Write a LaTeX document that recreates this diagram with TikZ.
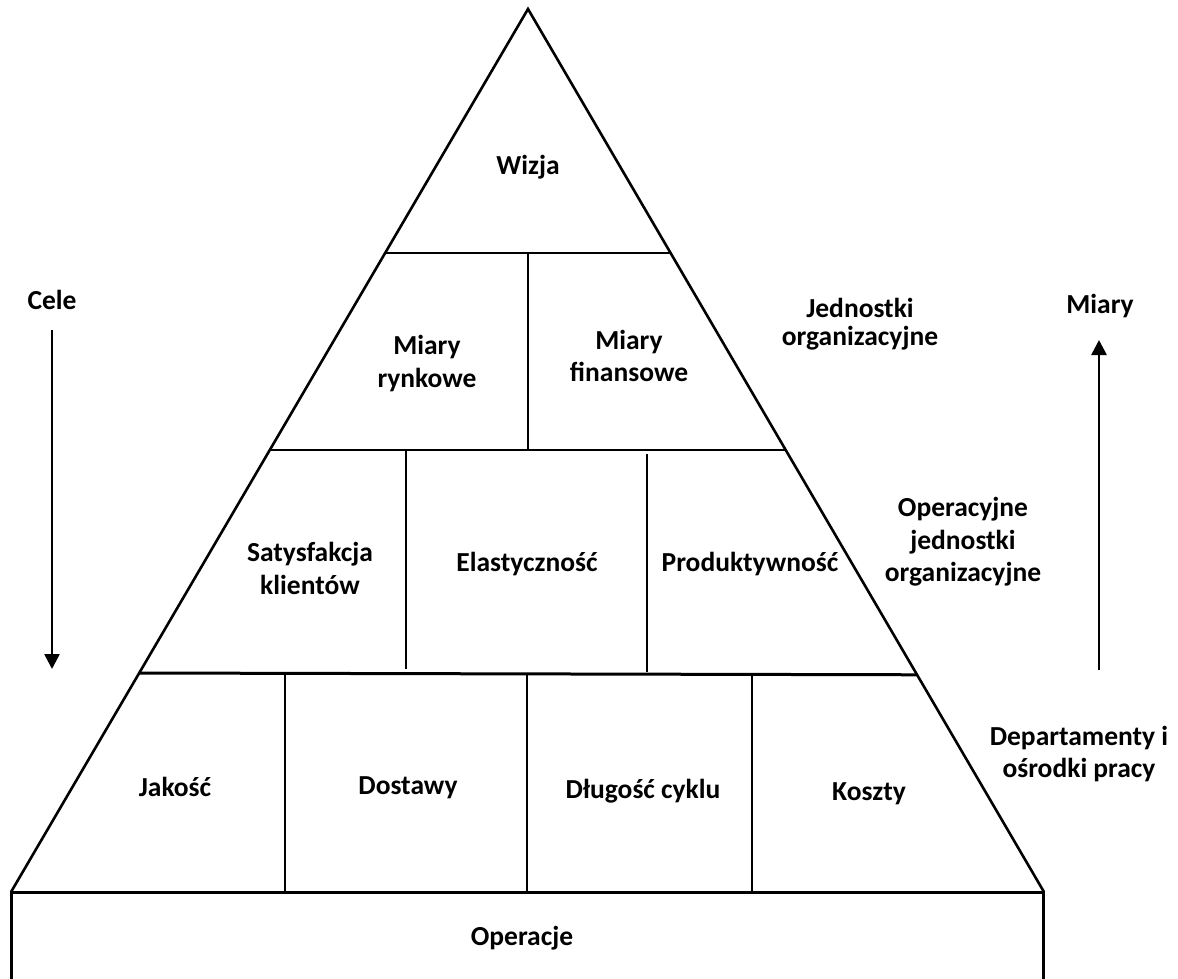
\documentclass[tikz,border=0pt]{standalone}
\usepackage{fontspec}
\setmainfont{Carlito}
\usetikzlibrary{calc,arrows.meta}
\begin{document}
\begin{tikzpicture}[x=1pt,y=-1pt,
  lbl/.style={font=\bfseries\fontsize{27.5}{33}\selectfont, inner sep=0pt, align=center},
  bl/.style={lbl, anchor=base},
  edge/.style={line width=2.6pt, line cap=butt},
  thick edge/.style={line width=3pt},
  arr/.style={line width=2.6pt, -{Triangle[length=15pt,width=15pt]}}]
\useasboundingbox (0,0) rectangle (1178,979);
\fill[white] (0,0) rectangle (1178,979);
% pyramid
\coordinate (A) at (528,9);
\coordinate (BL) at (11,892);
\coordinate (BR) at (1044,892);
\draw[edge, line join=miter] (BL) -- (A) -- (BR);
% level lines
\coordinate (L1a) at ($(A)!0.2763!(BL)$);
\coordinate (L1b) at ($(A)!0.2763!(BR)$);
\coordinate (L2a) at ($(A)!0.4994!(BL)$);
\coordinate (L2b) at ($(A)!0.4994!(BR)$);
\coordinate (L3a) at ($(A)!0.7520!(BL)$);
\coordinate (L3b) at ($(A)!0.7540!(BR)$);
\draw[edge] (L1a) -- (L1b);
\draw[edge] (L2a) -- (L2b);
\draw[thick edge] (L3a) -- (L3b);
% vertical dividers
\draw[edge] (528,253) -- (528,450);
\draw[edge] (406,450) -- (406,669);
\draw[edge] (647,454) -- (647,672);
\draw[edge] (285,675) -- (285,892);
\draw[edge] (527,673) -- (527,892);
\draw[edge] (752,675) -- (752,892);
% bottom box
\coordinate (OBL) at (11,990);
\coordinate (OBR) at (1043,990);
\draw[thick edge, line join=miter] (OBL) -- (11,892) -- (1043,892) -- (OBR);
% labels
\node[bl] (wizja) at (528,175) {Wizja};
\node[lbl] (rynk) at (427,364) {Miary\\rynkowe};
\node[lbl, font=\bfseries\fontsize{27.5}{32}\selectfont] (fin) at (629,356) {Miary\\finansowe};
\node[lbl, font=\bfseries\fontsize{27.5}{28.5}\selectfont] (jedn) at (860,324) {Jednostki\\organizacyjne};
\node[lbl] (sat) at (310,568) {Satysfakcja\\klientów};
\node[bl] (elast) at (527,571) {Elastyczność};
\node[bl] (prod) at (750,571) {Produktywność};
\node[lbl, font=\bfseries\fontsize{27.5}{32.5}\selectfont] (oper) at (963,542) {Operacyjne\\jednostki\\organizacyjne};
\node[lbl, font=\bfseries\fontsize{27.5}{32}\selectfont] (dep) at (1079,754) {Departamenty i\\ośrodki pracy};
\node[bl] (jak) at (175,796) {Jakość};
\node[bl] (dost) at (408,794) {Dostawy};
\node[bl] (dlug) at (643,798) {Długość cyklu};
\node[bl] (koszt) at (869,800) {Koszty};
\node[bl] (opc) at (522,945) {Operacje};
% side arrows
\node[bl] (cele) at (52,309) {Cele};
\node[bl] (miary) at (1100,313) {Miary};
\coordinate (celeS) at (52,330);
\coordinate (celeE) at (52,669);
\coordinate (miaryS) at (1099,670);
\coordinate (miaryE) at (1099,340);
\draw[arr] (celeS) -- (celeE);
\draw[arr] (miaryS) -- (miaryE);
\end{tikzpicture}
\end{document}
